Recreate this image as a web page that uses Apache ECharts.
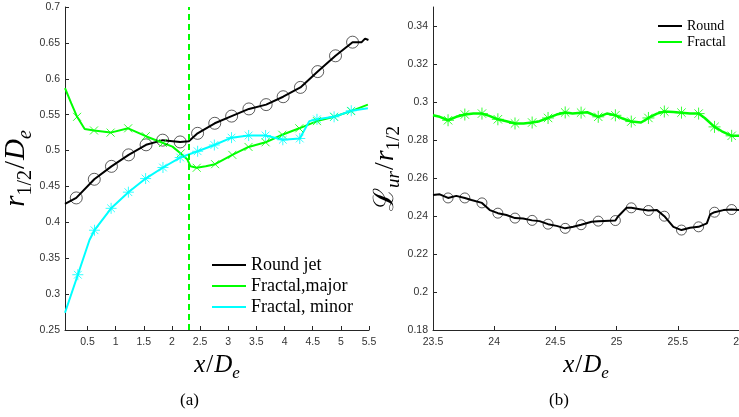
<!DOCTYPE html>
<html>
<head>
<meta charset="utf-8">
<script src="https://cdn.jsdelivr.net/npm/echarts@6/dist/echarts.min.js"></script>
<style>
  html, body { margin: 0; padding: 0; background: #fff; }
  #chart { width: 739px; height: 417px; }
</style>
</head>
<body>
<div id="chart"></div>
<script>
// ---------- (a) half-width r_1/2 / D_e versus x / D_e ----------
// Points that carry a marker, plus extra line-only points between them.
const roundMarkX = [0.30, 0.62, 0.925, 1.23, 1.54, 1.835, 2.145, 2.455, 2.76, 3.06, 3.367, 3.673, 3.975, 4.282, 4.589, 4.905, 5.208];
const roundMarkY = [0.434, 0.460, 0.478, 0.494, 0.508, 0.5145, 0.512, 0.524, 0.538, 0.548, 0.558, 0.564, 0.575, 0.588, 0.610, 0.632, 0.651];
const roundLineX = [0.10, 2.30, 5.37, 5.43, 5.49];
const roundLineY = [0.4256, 0.513, 0.651, 0.656, 0.654];

const majorMarkX = [0.315, 0.615, 0.91, 1.222, 1.535, 1.84, 2.155, 2.44, 2.766, 3.072, 3.36, 3.663, 3.96, 4.262, 4.576, 4.88, 5.18];
const majorMarkY = [0.547, 0.528, 0.525, 0.531, 0.520, 0.5105, 0.496, 0.476, 0.481, 0.494, 0.505, 0.5115, 0.522, 0.531, 0.541, 0.547, 0.555];
const majorLineX = [0.10, 0.21, 0.45, 2.01, 2.27, 2.33, 2.60, 5.48];
const majorLineY = [0.587, 0.566, 0.530, 0.5055, 0.488, 0.478, 0.478, 0.564];

const minorMarkX = [0.328, 0.624, 0.919, 1.226, 1.532, 1.84, 2.146, 2.456, 2.753, 3.058, 3.362, 3.663, 3.969, 4.27, 4.576, 4.88, 5.185];
const minorMarkY = [0.327, 0.389, 0.4195, 0.442, 0.461, 0.4764, 0.4903, 0.499, 0.5077, 0.518, 0.521, 0.521, 0.515, 0.5168, 0.5435, 0.547, 0.5555];
const minorLineX = [0.10, 0.535, 4.44, 5.48];
const minorLineY = [0.274, 0.3754, 0.541, 0.559];

const dashedX = 2.3;
const xTicksA = [0.5, 1, 1.5, 2, 2.5, 3, 3.5, 4, 4.5, 5, 5.5];

// ---------- (b) integral length scale L_ur / r_1/2 ----------
const bMarkX = [23.623, 23.76, 23.9, 24.03, 24.17, 24.31, 24.44, 24.58, 24.71, 24.85, 24.99, 25.12, 25.26, 25.39, 25.53, 25.67, 25.8, 25.94];
const bRoundMarkY = [0.2495, 0.2495, 0.2469, 0.2415, 0.2389, 0.2377, 0.2357, 0.2335, 0.2354, 0.2373, 0.2376, 0.2443, 0.2429, 0.2399, 0.2326, 0.2343, 0.2420, 0.2434];
const bRoundLineX = [23.5, 23.555, 23.69, 23.814, 23.964, 24.1, 24.236, 24.37, 24.51, 24.646, 24.796, 25.01, 25.08, 25.19, 25.33, 25.464, 25.6, 25.737, 25.764, 25.873, 26.0];
const bRoundLineY = [0.2510, 0.2514, 0.2506, 0.2484, 0.2431, 0.2405, 0.2387, 0.2373, 0.2348, 0.2343, 0.2370, 0.2396, 0.2443, 0.2436, 0.2431, 0.2343, 0.2338, 0.2361, 0.2408, 0.2431, 0.2432];
const bFractalMarkY = [0.2904, 0.2934, 0.2939, 0.2909, 0.2887, 0.2892, 0.2916, 0.2945, 0.2944, 0.2922, 0.2930, 0.2897, 0.2916, 0.2950, 0.2944, 0.2939, 0.2869, 0.2822];
const bFractalLineX = [23.5, 23.555, 23.69, 23.83, 23.96, 24.1, 24.24, 24.37, 24.51, 24.64, 24.76, 24.92, 25.05, 25.2, 25.33, 25.464, 25.6, 25.72, 25.86, 26.0];
const bFractalLineY = [0.2930, 0.2922, 0.2922, 0.2939, 0.2927, 0.2899, 0.2887, 0.2899, 0.2934, 0.2939, 0.2946, 0.2939, 0.2913, 0.2892, 0.2939, 0.2947, 0.2939, 0.2916, 0.2846, 0.2822];
const yTicksB = [0.18, 0.2, 0.22, 0.24, 0.26, 0.28, 0.3, 0.32, 0.34];

// ---------- helpers ----------
function pairs(xs, ys) { return xs.map((x, i) => [x, ys[i]]); }
function lineThrough(mx, my, lx, ly) {
  return pairs(mx, my).concat(pairs(lx, ly)).sort((a, b) => a[0] - b[0]);
}

const BLACK = '#000000', GREEN = '#00ff00', CYAN = '#00ffff', AXIS = '#262626';
const SERIF = 'Liberation Serif';
const SANS = 'Liberation Sans';
const X_SYMBOL = 'path://M0,0L10,10M10,0L0,10';
const STAR_SYMBOL = 'path://M5,0L5,10M0,5L10,5M1.5,1.5L8.5,8.5M8.5,1.5L1.5,8.5';

// math-style axis titles: italic letters with lowered subscripts
function mathRich(big, small) {
  const lh = Math.round(big * 1.3);
  return {
    i: { fontFamily: SERIF, fontStyle: 'italic', fontSize: big, lineHeight: lh, verticalAlign: 'middle', color: '#000' },
    n: { fontFamily: SERIF, fontSize: big, lineHeight: lh, verticalAlign: 'middle', color: '#000', padding: [0, 1, 0, 1] },
    L: { fontFamily: 'DejaVu Serif', fontSize: big, lineHeight: lh, verticalAlign: 'middle', color: '#000' },
    s: { fontFamily: SERIF, fontStyle: 'italic', fontSize: small, lineHeight: small, verticalAlign: 'bottom', color: '#000' },
    u: { fontFamily: SERIF, fontSize: small, lineHeight: small, verticalAlign: 'bottom', color: '#000' }
  };
}

function valueAxis(extra) {
  return Object.assign({
    type: 'value',
    splitLine: { show: false },
    axisLine: { show: true, onZero: false, lineStyle: { color: AXIS, width: 1 } },
    axisTick: { show: true, inside: true, length: 4, lineStyle: { color: AXIS, width: 1 } },
    axisLabel: { color: '#333', fontFamily: SANS, fontSize: 10.5 },
    nameLocation: 'middle'
  }, extra);
}

const lineBase = { type: 'line', symbol: 'none', showSymbol: false, smooth: false, z: 3 };
const markBase = { type: 'scatter', silent: true, z: 4 };

const option = {
  animation: false,
  backgroundColor: '#ffffff',
  grid: [
    { left: 65, top: 7, width: 304, height: 323, outerBoundsMode: 'none', containLabel: false },
    { left: 433, top: 7, width: 306, height: 323, outerBoundsMode: 'none', containLabel: false }
  ],
  xAxis: [
    valueAxis({
      gridIndex: 0, min: 0.1, max: 5.5,
      axisTick: { show: true, inside: true, length: 4, customValues: xTicksA, lineStyle: { color: AXIS } },
      axisLabel: { customValues: xTicksA, color: '#333', fontFamily: SANS, fontSize: 10.5, margin: 7 },
      name: '{i|x}{n|/}{i|D}{s|e}', nameGap: 12, nameTextStyle: { rich: mathRich(25, 17) }
    }),
    valueAxis({
      gridIndex: 1, min: 23.5, max: 26, interval: 0.5,
      axisLabel: { color: '#333', fontFamily: SANS, fontSize: 10.5, margin: 7 },
      name: '{i|x}{n|/}{i|D}{s|e}', nameGap: 12, nameTextStyle: { rich: mathRich(25, 17) }
    })
  ],
  yAxis: [
    valueAxis({
      gridIndex: 0, min: 0.25, max: 0.7, interval: 0.05,
      axisLabel: { color: '#333', fontFamily: SANS, fontSize: 10.5, margin: 5 },
      name: '{i|r}{u|1/2}{n|/}{i|D}{s|e}', nameGap: 27, nameRotate: 90,
      nameTextStyle: { rich: mathRich(29, 20) }
    }),
    valueAxis({
      gridIndex: 1, min: 0.18, max: 0.35,
      axisTick: { show: true, inside: true, length: 4, customValues: yTicksB, lineStyle: { color: AXIS } },
      axisLabel: { customValues: yTicksB, color: '#333', fontFamily: SANS, fontSize: 10.5, margin: 5 },
      name: '{L|ℒ}{s|ur}{n|/}{i|r}{u|1/2}', nameGap: 27, nameRotate: 90,
      nameTextStyle: { rich: mathRich(28, 19) }
    })
  ],
  legend: [
    {
      data: ['Round jet', 'Fractal,major', 'Fractal, minor'],
      orient: 'vertical', left: 212, top: 256, padding: 0,
      icon: 'rect', itemWidth: 34, itemHeight: 2.2, itemGap: 3,
      textStyle: { fontFamily: SERIF, fontSize: 18, lineHeight: 18, color: '#000' }
    },
    {
      data: ['Round', 'Fractal'],
      orient: 'vertical', left: 658, top: 19, padding: 0,
      icon: 'rect', itemWidth: 24, itemHeight: 2, itemGap: 2,
      textStyle: { fontFamily: SERIF, fontSize: 14, lineHeight: 14, color: '#000' }
    }
  ],
  graphic: [
    { type: 'text', left: 180, top: 392, style: { text: '(a)', font: '17px "Liberation Serif"', fill: '#000' } },
    { type: 'text', left: 549, top: 392, style: { text: '(b)', font: '17px "Liberation Serif"', fill: '#000' } }
  ],
  series: [
    // (a)
    Object.assign({}, lineBase, {
      name: 'Round jet', xAxisIndex: 0, yAxisIndex: 0,
      data: lineThrough(roundMarkX, roundMarkY, roundLineX, roundLineY),
      lineStyle: { color: BLACK, width: 2 }, itemStyle: { color: BLACK }
    }),
    Object.assign({}, lineBase, {
      name: 'Fractal,major', xAxisIndex: 0, yAxisIndex: 0,
      data: lineThrough(majorMarkX, majorMarkY, majorLineX, majorLineY),
      lineStyle: { color: GREEN, width: 2 }, itemStyle: { color: GREEN },
      markLine: {
        silent: true, symbol: ['none', 'none'], label: { show: false },
        lineStyle: { color: GREEN, type: [6, 4], width: 2 },
        data: [{ xAxis: dashedX }]
      }
    }),
    Object.assign({}, lineBase, {
      name: 'Fractal, minor', xAxisIndex: 0, yAxisIndex: 0,
      data: lineThrough(minorMarkX, minorMarkY, minorLineX, minorLineY),
      lineStyle: { color: CYAN, width: 2 }, itemStyle: { color: CYAN }
    }),
    Object.assign({}, markBase, {
      name: 'round jet markers', xAxisIndex: 0, yAxisIndex: 0,
      data: pairs(roundMarkX, roundMarkY), symbol: 'circle', symbolSize: 12,
      itemStyle: { color: 'rgba(0,0,0,0)', borderColor: BLACK, borderWidth: 0.8 }
    }),
    Object.assign({}, markBase, {
      name: 'major markers', xAxisIndex: 0, yAxisIndex: 0,
      data: pairs(majorMarkX, majorMarkY), symbol: X_SYMBOL, symbolSize: 8,
      itemStyle: { color: 'rgba(0,0,0,0)', borderColor: GREEN, borderWidth: 1 }
    }),
    Object.assign({}, markBase, {
      name: 'minor markers', xAxisIndex: 0, yAxisIndex: 0,
      data: pairs(minorMarkX, minorMarkY), symbol: STAR_SYMBOL, symbolSize: 11,
      itemStyle: { color: 'rgba(0,0,0,0)', borderColor: CYAN, borderWidth: 1 }
    }),
    // (b)
    Object.assign({}, lineBase, {
      name: 'Round', xAxisIndex: 1, yAxisIndex: 1,
      data: lineThrough(bMarkX, bRoundMarkY, bRoundLineX, bRoundLineY),
      lineStyle: { color: BLACK, width: 2 }, itemStyle: { color: BLACK }
    }),
    Object.assign({}, lineBase, {
      name: 'Fractal', xAxisIndex: 1, yAxisIndex: 1,
      data: lineThrough(bMarkX, bFractalMarkY, bFractalLineX, bFractalLineY),
      lineStyle: { color: GREEN, width: 2.5 }, itemStyle: { color: GREEN }
    }),
    Object.assign({}, markBase, {
      name: 'round markers', xAxisIndex: 1, yAxisIndex: 1,
      data: pairs(bMarkX, bRoundMarkY), symbol: 'circle', symbolSize: 10,
      itemStyle: { color: 'rgba(0,0,0,0)', borderColor: BLACK, borderWidth: 0.8 }
    }),
    Object.assign({}, markBase, {
      name: 'fractal markers', xAxisIndex: 1, yAxisIndex: 1,
      data: pairs(bMarkX, bFractalMarkY), symbol: STAR_SYMBOL, symbolSize: 12,
      itemStyle: { color: 'rgba(0,0,0,0)', borderColor: GREEN, borderWidth: 1 }
    })
  ]
};

const chart = echarts.init(document.getElementById('chart'), null, { renderer: 'canvas' });
chart.setOption(option);
</script>
</body>
</html>
